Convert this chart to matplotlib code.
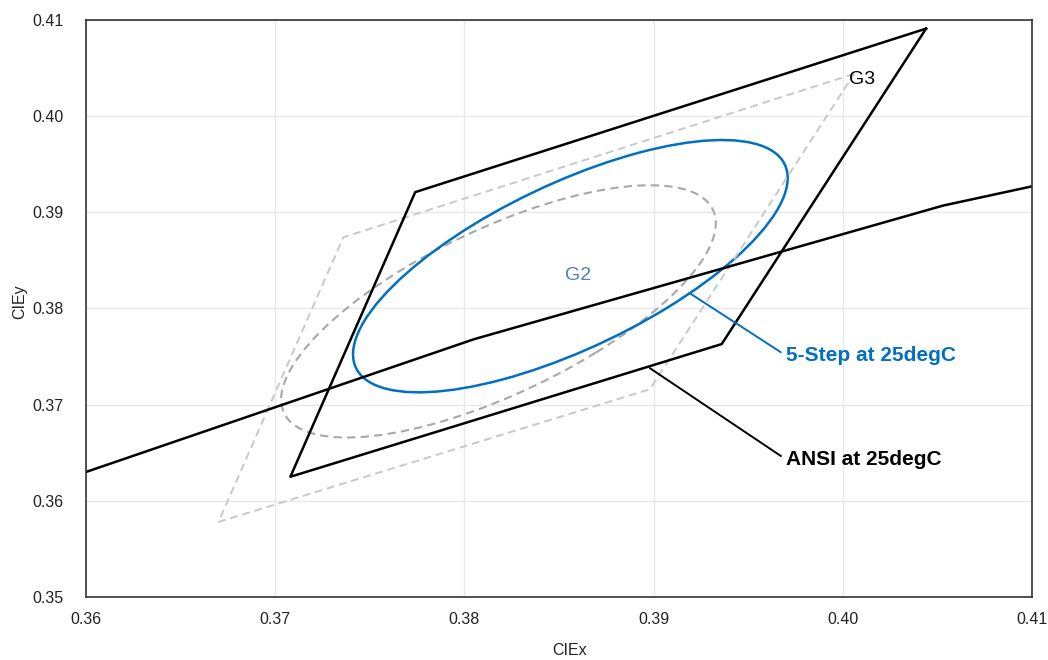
import matplotlib
matplotlib.use("Agg")
import matplotlib.pyplot as plt
from matplotlib.patches import Ellipse

plt.rcParams["font.family"] = ["Liberation Sans", "DejaVu Sans"]

# ANSI C78.377 4000K quadrangle, reference and at 25degC
quad_ref_x = [0.4006, 0.3736, 0.3670, 0.3898, 0.4006]
quad_ref_y = [0.4044, 0.3874, 0.3578, 0.3716, 0.4044]
quad_25c_x = [0.4044, 0.3774, 0.3708, 0.3936, 0.4044]
quad_25c_y = [0.4091, 0.3921, 0.3625, 0.3763, 0.4091]

# blackbody locus through the plot window
locus_x = [0.3600, 0.3805, 0.4053, 0.4100]
locus_y = [0.3630, 0.3768, 0.3907, 0.3927]

# 5-step MacAdam ellipse (semi-axes, tilt in degrees)
ellipse_ref_center = (0.3818, 0.3797)
ellipse_25c_center = (0.3856, 0.3844)
semi_major = 0.0161
semi_minor = 0.0067
tilt = 50.4

BLUE = "#0070c0"
TEXT = "#222222"

fig = plt.figure(figsize=(10.48, 6.6), dpi=100)
ax = fig.add_axes([0.0821, 0.0955, 0.9026, 0.8742])

ax.plot(quad_ref_x, quad_ref_y, color="#c8c8c8", lw=1.4, ls=(0, (4, 2.5)))
ax.add_patch(Ellipse(ellipse_ref_center, 2 * semi_major, 2 * semi_minor, angle=tilt,
                     fill=False, ec="#a8a8a8", lw=1.5, ls=(0, (4, 2.5))))
ax.plot(locus_x, locus_y, color="black", lw=1.8)
ax.plot(quad_25c_x, quad_25c_y, color="black", lw=1.8)
ax.add_patch(Ellipse(ellipse_25c_center, 2 * semi_major, 2 * semi_minor, angle=tilt,
                     fill=False, ec=BLUE, lw=1.8))

ax.text(0.4010, 0.4038, "G3", fontsize=14, ha="center", va="center", color="black")
ax.text(0.3860, 0.3834, "G2", fontsize=14, ha="center", va="center", color="#4f81bd")

ax.annotate("5-Step at 25degC", xy=(0.3919, 0.3816), xytext=(0.3970, 0.3751),
            fontsize=15, fontweight="bold", color=BLUE, ha="left", va="center",
            arrowprops=dict(arrowstyle="-", color=BLUE, lw=1.4, shrinkA=2, shrinkB=0,
                            relpos=(0, 0.5)))
ax.annotate("ANSI at 25degC", xy=(0.3898, 0.3738), xytext=(0.3970, 0.3643),
            fontsize=15, fontweight="bold", color="black", ha="left", va="center",
            arrowprops=dict(arrowstyle="-", color="black", lw=1.4, shrinkA=2, shrinkB=0,
                            relpos=(0, 0.5)))

ax.set_xlim(0.36, 0.41)
ax.set_ylim(0.35, 0.41)
ax.set_xticks([0.36, 0.37, 0.38, 0.39, 0.40, 0.41])
ax.set_yticks([0.35, 0.36, 0.37, 0.38, 0.39, 0.40, 0.41])
ax.set_xticklabels(["0.36", "0.37", "0.38", "0.39", "0.40", "0.41"])
ax.set_yticklabels(["0.35", "0.36", "0.37", "0.38", "0.39", "0.40", "0.41"])
ax.tick_params(length=0, labelsize=11.5, colors=TEXT)
ax.tick_params(axis="x", pad=11)
ax.tick_params(axis="y", pad=16)
ax.grid(True, color="#e8e8e8", lw=1)
ax.set_axisbelow(True)
for spine in ax.spines.values():
    spine.set_color("#333333")
    spine.set_linewidth(1.2)

ax.set_xlabel("CIEx", fontsize=11.5, color=TEXT)
ax.set_ylabel("CIEy", fontsize=11.5, color=TEXT)
ax.xaxis.set_label_coords(0.5116, -0.079)
ax.yaxis.set_label_coords(-0.0624, 0.511)

fig.savefig("out.png", dpi=100)
